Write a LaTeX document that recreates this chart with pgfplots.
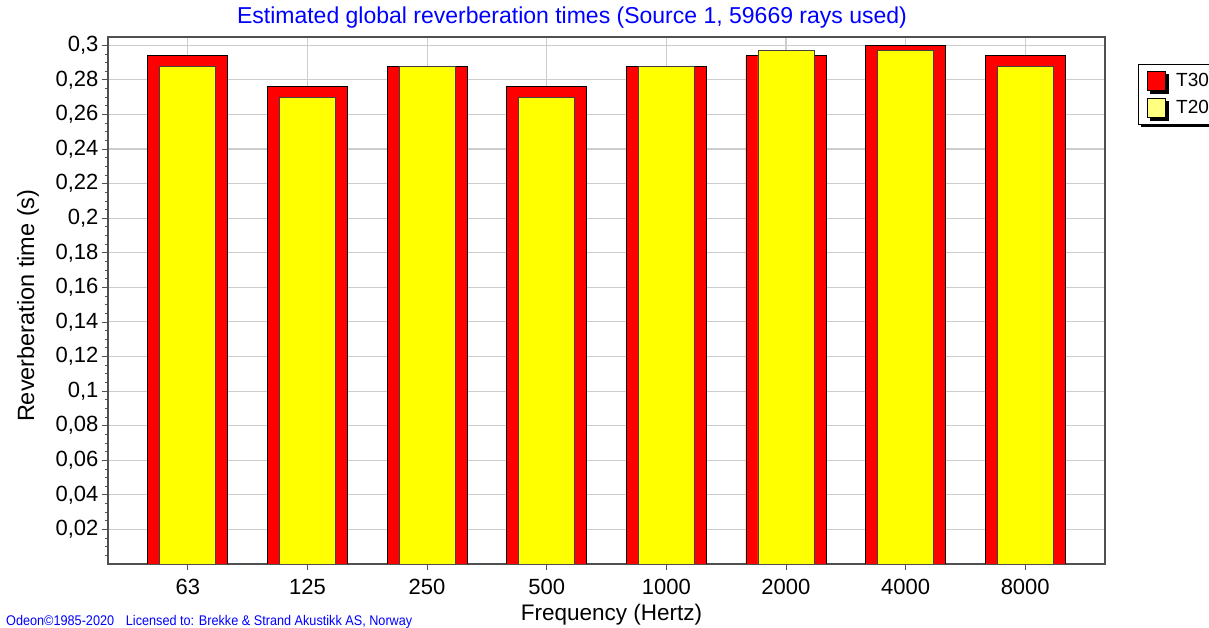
\documentclass[border=0pt]{standalone}
\usepackage{pgfplots}
\pgfplotsset{compat=1.18}
\usepackage{fontspec}
\setmainfont{Liberation Sans}
\usetikzlibrary{shadows}
\definecolor{gridgray}{RGB}{205,205,205}
\definecolor{axgray}{RGB}{80,80,80}
\definecolor{titleblue}{RGB}{0,0,255}
\definecolor{legyellow}{RGB}{255,255,128}
\definecolor{baryellow}{RGB}{255,255,0}
\definecolor{barred}{RGB}{255,0,0}
\pgfplotsset{sqlegend/.style={legend image code/.code={%
  \draw[##1] (0pt,-9.5pt) rectangle (18pt,9.5pt);}}}
\begin{document}
\begin{tikzpicture}[x=1pt,y=1pt]
\useasboundingbox (0,0) rectangle (1209,628);
\begin{axis}[
  at={(108pt,64pt)}, anchor=south west,
  width=997pt, height=527pt, scale only axis,
  xmin=-0.667, xmax=7.667, ymin=0, ymax=0.3048,
  xtick={0,1,2,3,4,5,6,7},
  xticklabels={63,125,250,500,1000,2000,4000,8000},
  ytick={0.02,0.04,0.06,0.08,0.1,0.12,0.14,0.16,0.18,0.2,0.22,0.24,0.26,0.28,0.3},
  yticklabels={{0,02},{0,04},{0,06},{0,08},{0,1},{0,12},{0,14},{0,16},{0,18},{0,2},{0,22},{0,24},{0,26},{0,28},{0,3}},
  minor ytick={0.005,0.01,...,0.3},
  /pgf/number format/assume math mode=true,
  xtick pos=bottom, ytick pos=left,
  tick align=outside,
  major tick length=6pt, minor tick length=3pt,
  tick style={axgray, line width=0.8pt},
  grid=major,
  major grid style={gridgray, line width=1.1pt},
  axis line style={axgray, line width=1.3pt},
  ticklabel style={font=\fontsize{22}{26}\selectfont, text=black},
  xticklabel style={yshift=-6pt},
  label style={font=\fontsize{22.5}{27}\selectfont, text=black},
  xlabel={Frequency (Hertz)},
  ylabel={Reverberation time (s)},
  xlabel style={at={(axis description cs:0.505,-0.1070)}, anchor=base},
  ylabel style={at={(axis description cs:-0.0742,0.49)}, anchor=base, font=\fontsize{23.5}{27}\selectfont},
  title={Estimated global reverberation times (Source 1, 59669 rays used)},
  title style={at={(axis description cs:0.4654,1.0133)}, anchor=base, yshift=0pt, font=\fontsize{23}{27}\selectfont, text=titleblue},
  legend style={at={(axis description cs:1.0331,0.9488)}, anchor=north west,
    draw=black, line width=0.9pt, fill=white,
    font=\fontsize{19}{22}\selectfont,
    inner xsep=9pt, inner ysep=6.7pt, row sep=7pt, column sep=10pt,
    nodes={inner sep=0pt},
    drop shadow={shadow xshift=3pt, shadow yshift=-3pt, fill=black, opacity=1}},
  legend cell align=left,
]
\addlegendimage{area legend, fill=barred, draw=black, line width=0.7pt, sqlegend}
\addlegendentry{T30}
\addlegendimage{area legend, fill=legyellow, draw=black, line width=0.7pt, sqlegend}
\addlegendentry{T20}
\addplot[ybar, bar width=80pt, bar shift=0pt, fill=barred, draw=black, line width=0.9pt, forget plot]
  coordinates {(0,0.294) (1,0.276) (2,0.288) (3,0.276) (4,0.288) (5,0.294) (6,0.300) (7,0.294)};
\addplot[ybar, bar width=56pt, bar shift=0pt, fill=baryellow, draw=black!75, line width=0.9pt, forget plot]
  coordinates {(0,0.288) (1,0.270) (2,0.288) (3,0.270) (4,0.288) (5,0.297) (6,0.297) (7,0.288)};
\end{axis}
\node[anchor=base west, inner sep=0pt, text=titleblue, font=\fontsize{14}{16}\selectfont] at (6,2)
  {\scalebox{0.905}[1]{Odeon\textcopyright1985-2020\hspace{13pt}Licensed to: Brekke \& Strand Akustikk AS, Norway}};
\end{tikzpicture}
\end{document}
